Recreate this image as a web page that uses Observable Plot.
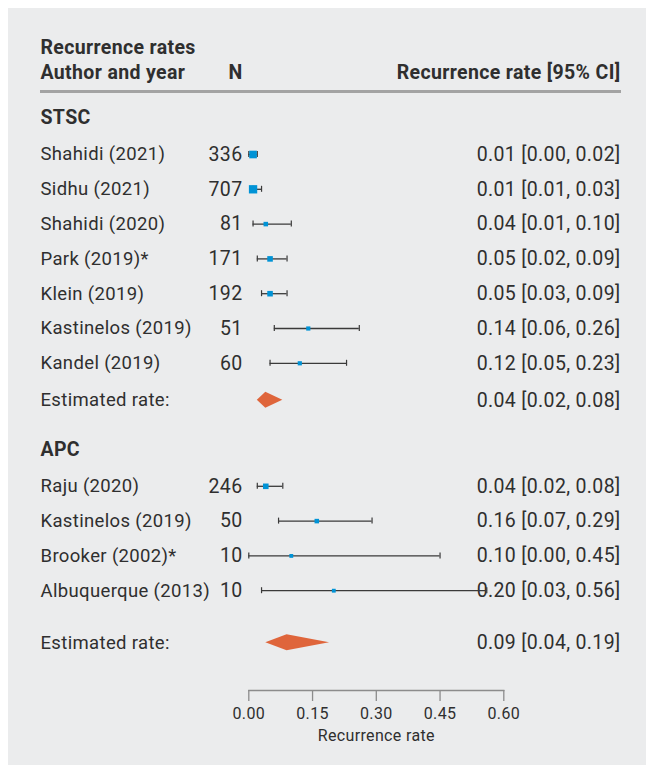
<!DOCTYPE html>
<html>
<head>
<meta charset="utf-8">
<script src="https://cdn.jsdelivr.net/npm/d3@7"></script>
<script src="https://cdn.jsdelivr.net/npm/@observablehq/plot@0.6"></script>
<style>
  html, body { margin: 0; padding: 0; background: #ffffff; }
  #panel { position: absolute; left: 8px; top: 8px; width: 638px; height: 757px; background: #ebeced; }
  #panel svg { display: block; background: transparent; }
</style>
</head>
<body>
<div id="panel"></div>
<script>
// ---- data ----
const groups = ["STSC", "APC"];

const stscAuthors = ["Shahidi (2021)", "Sidhu (2021)", "Shahidi (2020)", "Park (2019)*", "Klein (2019)", "Kastinelos (2019)", "Kandel (2019)"];
const stscN      = [336, 707, 81, 171, 192, 51, 60];
const stscRate   = [0.01, 0.01, 0.04, 0.05, 0.05, 0.14, 0.12];
const stscLower  = [0.00, 0.01, 0.01, 0.02, 0.03, 0.06, 0.05];
const stscUpper  = [0.02, 0.03, 0.10, 0.09, 0.09, 0.26, 0.23];
const stscWeight = [16, 18, 7, 10, 10, 6, 6];
const stscPooled = [0.04, 0.02, 0.08];

const apcAuthors = ["Raju (2020)", "Kastinelos (2019)", "Brooker (2002)*", "Albuquerque (2013)"];
const apcN      = [246, 50, 10, 10];
const apcRate   = [0.04, 0.16, 0.10, 0.20];
const apcLower  = [0.02, 0.07, 0.00, 0.03];
const apcUpper  = [0.08, 0.29, 0.45, 0.56];
const apcWeight = [10, 7, 5, 5];
const apcPooled = [0.09, 0.04, 0.19];

const xTicks = [0, 0.15, 0.30, 0.45, 0.60];
const headerTitle = "Recurrence rates";
const headerCols = ["Author and year", "N", "Recurrence rate [95% CI]"];
const pooledLabel = "Estimated rate:";
const xLabel = "Recurrence rate";

// ---- layout (pixels inside the panel) ----
const W = 638, H = 757;
const mL = 240.3, mR = 142.7, mB = 75;
const header1Y = 39, header2Y = 64, headerRuleY = 83;
const firstGroupY = 109, titleToStudy = 37, rowStep = 34.8;
const studyToPooled = [37, 52];
const pooledToGroup = 49;

const studySets = [
  {authors: stscAuthors, n: stscN, rate: stscRate, lo: stscLower, hi: stscUpper, w: stscWeight, pooled: stscPooled},
  {authors: apcAuthors, n: apcN, rate: apcRate, lo: apcLower, hi: apcUpper, w: apcWeight, pooled: apcPooled}
];

const groupRows = [], studyRows = [], pooledRows = [];
let y = firstGroupY;
groups.forEach((g, gi) => {
  const s = studySets[gi];
  groupRows.push({label: g, y});
  y += titleToStudy;
  s.authors.forEach((a, i) => {
    studyRows.push({label: a, n: s.n[i], rate: s.rate[i], lo: s.lo[i], hi: s.hi[i], w: s.w[i], y});
    if (i < s.authors.length - 1) y += rowStep;
  });
  y += studyToPooled[gi];
  pooledRows.push({group: g, rate: s.pooled[0], lo: s.pooled[1], hi: s.pooled[2], y});
  y += pooledToGroup;
});

const fmt = v => v.toFixed(2);
const ciText = d => `${fmt(d.rate)} [${fmt(d.lo)}, ${fmt(d.hi)}]`;

const diamond = pooledRows.flatMap(d => [
  {group: d.group, x: d.lo, y1: d.y, y2: d.y},
  {group: d.group, x: d.rate, y1: d.y - 8, y2: d.y + 8},
  {group: d.group, x: d.hi, y1: d.y, y2: d.y}
]);

const capH = 3;
const caps = studyRows.flatMap(d => [
  {x: d.lo, y1: d.y - capH, y2: d.y + capH},
  {x: d.hi, y1: d.y - capH, y2: d.y + capH}
]);

const textColor = "#2f2f2f";
const font = "Roboto, 'Open Sans', sans-serif";
const leftX = 32 - mL;         // dx from frame left to text column
const nX = 234 - mL;           // dx for right edge of N column
const ciX = 612 - (W - mR);    // dx from frame right to CI text right edge
const numStyle = {fontSize: 19.5, fill: textColor};
const nameStyle = {fontSize: 18.5, fill: textColor};
const boldStyle = {fontSize: 19.5, fontWeight: "bold", fill: textColor};

const chart = Plot.plot({
  width: W,
  height: H,
  marginLeft: mL,
  marginRight: mR,
  marginTop: 0,
  marginBottom: mB,
  style: {fontFamily: font, color: textColor, background: "transparent", overflow: "visible", letterSpacing: "0.35px"},
  x: {domain: [0, 0.6], axis: null},
  y: {type: "identity", axis: null},
  r: {type: "linear", domain: [0, 18], range: [1.2, 4.7]},
  marks: [
    // header
    Plot.text([headerTitle], {y: () => header1Y, text: d => d, frameAnchor: "left", dx: leftX, textAnchor: "start", ...boldStyle}),
    Plot.text([headerCols[0]], {y: () => header2Y, text: d => d, frameAnchor: "left", dx: leftX, textAnchor: "start", ...boldStyle}),
    Plot.text([headerCols[1]], {y: () => header2Y, text: d => d, frameAnchor: "left", dx: nX, textAnchor: "end", ...boldStyle}),
    Plot.text([headerCols[2]], {y: () => header2Y, text: d => d, frameAnchor: "right", dx: ciX, textAnchor: "end", ...boldStyle}),
    Plot.ruleY([headerRuleY], {stroke: "#a3a3a3", strokeWidth: 3, insetLeft: 32 - mL, insetRight: (W - mR) - 613}),
    // group titles
    Plot.text(groupRows, {y: "y", text: "label", frameAnchor: "left", dx: leftX, textAnchor: "start", ...boldStyle}),
    // study labels
    Plot.text(studyRows, {y: "y", text: "label", frameAnchor: "left", dx: leftX, textAnchor: "start", ...nameStyle}),
    Plot.text(studyRows, {y: "y", text: d => String(d.n), frameAnchor: "left", dx: nX, textAnchor: "end", ...numStyle}),
    Plot.text(studyRows, {y: "y", text: ciText, frameAnchor: "right", dx: ciX, textAnchor: "end", ...numStyle}),
    Plot.text(pooledRows, {y: "y", text: () => pooledLabel, frameAnchor: "left", dx: leftX, textAnchor: "start", ...nameStyle}),
    Plot.text(pooledRows, {y: "y", text: ciText, frameAnchor: "right", dx: ciX, textAnchor: "end", ...numStyle}),
    // CI lines and caps
    Plot.ruleY(studyRows, {y: "y", x1: "lo", x2: "hi", stroke: "#3a3a3a", strokeWidth: 1.3}),
    Plot.ruleX(caps, {x: "x", y1: "y1", y2: "y2", stroke: "#3a3a3a", strokeWidth: 1.2}),
    // study squares
    Plot.dot(studyRows, {x: "rate", y: "y", r: "w", symbol: "square", fill: "#0093d6", stroke: "none"}),
    // pooled diamonds
    Plot.areaY(diamond, {x: "x", y1: "y1", y2: "y2", z: "group", fill: "#df653b", curve: "linear"}),
    // axis
    Plot.frame({anchor: "bottom", stroke: "#8c8c8c", strokeWidth: 1.3}),
    Plot.axisX({ticks: xTicks, tickFormat: d => d.toFixed(2), tickSize: 11, tickPadding: 6, stroke: "#8c8c8c", strokeWidth: 1.3, fontSize: 16, fill: textColor, label: xLabel, labelAnchor: "center", labelArrow: "none", labelOffset: 50})
  ]
});

document.getElementById("panel").appendChild(chart);
</script>
</body>
</html>
